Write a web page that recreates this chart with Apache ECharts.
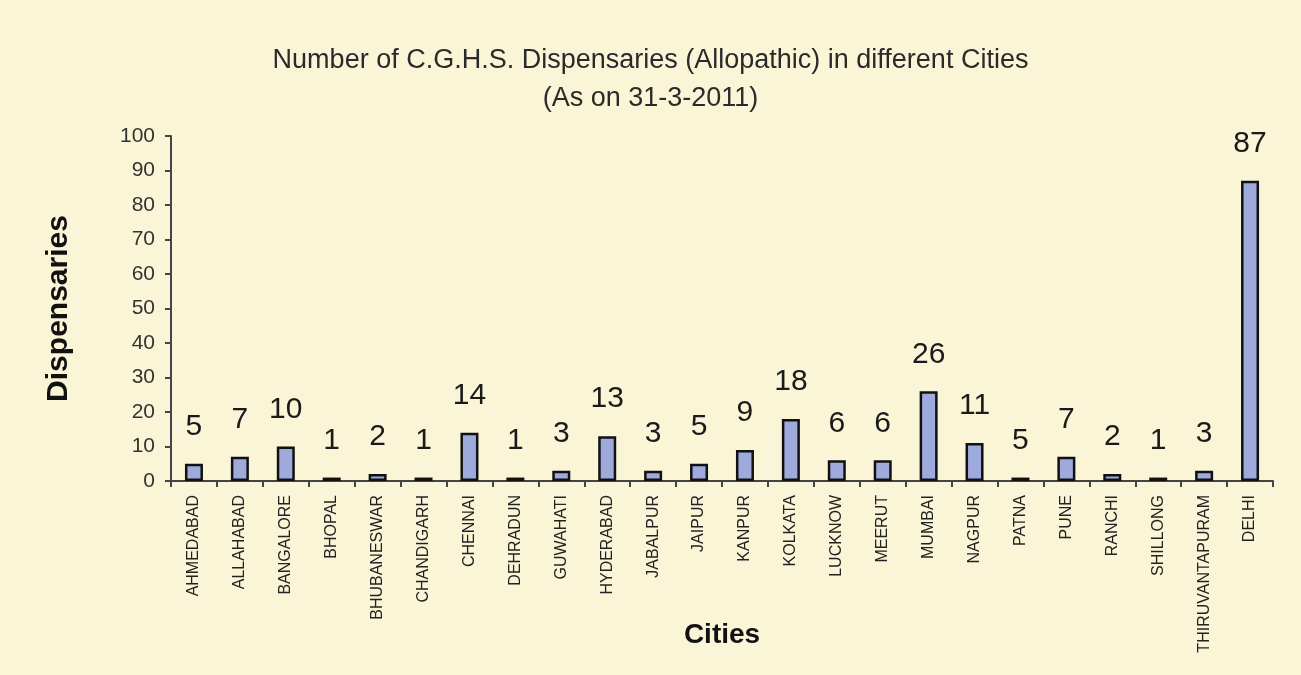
<!DOCTYPE html>
<html lang="en">
<head>
    <meta charset="UTF-8">
    <script src="https://cdn.jsdelivr.net/npm/echarts@6/dist/echarts.min.js"></script>
    <style>
        html, body { margin: 0; padding: 0; background: #fbf5d7; }
        #main { width: 1301px; height: 675px; }
    </style>
</head>
<body>
    <div id="main"></div>
    <script>
        // cities along the x axis
        var cities = ['AHMEDABAD', 'ALLAHABAD', 'BANGALORE', 'BHOPAL', 'BHUBANESWAR', 'CHANDIGARH',
            'CHENNAI', 'DEHRADUN', 'GUWAHATI', 'HYDERABAD', 'JABALPUR', 'JAIPUR', 'KANPUR',
            'KOLKATA', 'LUCKNOW', 'MEERUT', 'MUMBAI', 'NAGPUR', 'PATNA', 'PUNE', 'RANCHI',
            'SHILLONG', 'THIRUVANTAPURAM', 'DELHI'];
        // bar heights as drawn
        var dispensaries = [5, 7, 10, 1, 2, 1, 14, 1, 3, 13, 3, 5, 9, 18, 6, 6, 26, 11, 1, 7, 2, 1, 3, 87];
        // numbers printed above the bars (Patna is printed as 5)
        var printed = [5, 7, 10, 1, 2, 1, 14, 1, 3, 13, 3, 5, 9, 18, 6, 6, 26, 11, 5, 7, 2, 1, 3, 87];
        var yTicks = { min: 0, max: 100, interval: 10 };

        var chart = echarts.init(document.getElementById('main'));
        var sans = "'Liberation Sans', Arial, sans-serif";

        chart.setOption({
            backgroundColor: '#fbf5d7',
            animation: false,
            title: {
                text: 'Number of C.G.H.S. Dispensaries (Allopathic) in different Cities\n(As on 31-3-2011)',
                left: 'center',
                top: 37,
                textStyle: {
                    fontFamily: sans,
                    fontWeight: 'normal',
                    fontSize: 27,
                    lineHeight: 38,
                    color: '#2a2a2a'
                }
            },
            grid: { left: 171, right: 28, top: 136, bottom: 194, containLabel: false, outerBoundsMode: 'none' },
            xAxis: {
                type: 'category',
                data: cities,
                name: 'Cities',
                nameLocation: 'middle',
                nameGap: 140,
                nameMoveOverlap: false,
                nameTextStyle: { fontFamily: sans, fontWeight: 'bold', fontSize: 28, color: '#111' },
                axisLine: { lineStyle: { color: '#444', width: 2 } },
                axisTick: { show: true, alignWithLabel: false, length: 6, lineStyle: { color: '#444', width: 2 } },
                axisLabel: {
                    rotate: 90,
                    interval: 0,
                    margin: 14,
                    fontFamily: sans,
                    fontSize: 16,
                    color: '#222'
                }
            },
            yAxis: {
                type: 'value',
                min: yTicks.min,
                max: yTicks.max,
                interval: yTicks.interval,
                name: 'Dispensaries',
                nameLocation: 'middle',
                nameGap: 97,
                nameTextStyle: { fontFamily: sans, fontWeight: 'bold', fontSize: 30, color: '#111' },
                axisLine: { show: true, lineStyle: { color: '#444', width: 2 } },
                axisTick: { show: true, length: 6, lineStyle: { color: '#444', width: 2 } },
                splitLine: { show: false },
                axisLabel: {
                    margin: 16,
                    fontFamily: sans,
                    fontSize: 21,
                    color: '#333'
                }
            },
            series: [{
                type: 'bar',
                data: dispensaries,
                barWidth: 18,
                itemStyle: {
                    color: '#9faadc',
                    borderColor: '#111',
                    borderWidth: 2.5
                },
                label: {
                    show: true,
                    position: 'top',
                    distance: 22,
                    fontFamily: sans,
                    fontSize: 30,
                    color: '#1a1a1a',
                    formatter: function (p) { return printed[p.dataIndex]; }
                }
            }]
        });
    </script>
</body>
</html>
